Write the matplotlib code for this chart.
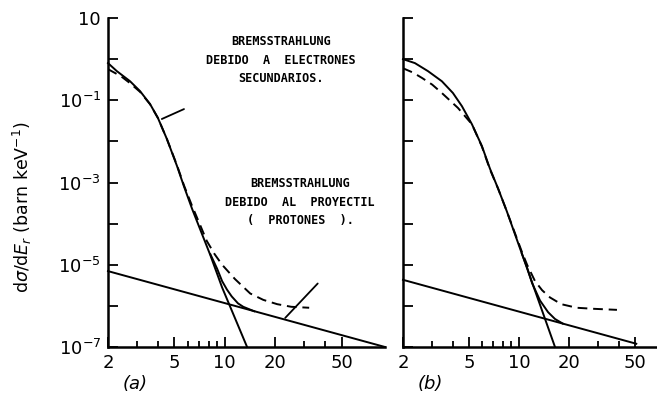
import matplotlib
matplotlib.use('Agg')
import matplotlib.pyplot as plt
from matplotlib.ticker import FixedLocator, NullFormatter

plt.rcParams['font.family'] = ['DejaVu Sans']

# panel (a)
a_elec_E = [2, 2.26, 2.71, 3.11, 3.57, 3.98, 4.5, 5.18, 5.7, 6.37, 7.1, 8.2, 9.64, 13.6]
a_elec_v = [0.8, 0.51, 0.29, 0.167, 0.081, 0.037, 0.0115, 2.5e-3, 8e-4, 2.3e-4, 7.5e-5,
            1.7e-5, 2.8e-6, 1e-7]
a_tot_E = [8.2, 9.0, 9.64, 10.3, 11, 12, 12.9, 15]
a_tot_v = [1.8e-5, 8e-6, 4e-6, 2.5e-6, 1.7e-6, 1.15e-6, 9.5e-7, 7.4e-7]
a_prot_E = [2, 91]
a_prot_v = [7e-6, 1e-7]
a_dash_E = [2, 2.4, 2.71, 3.11, 3.57, 3.98, 4.5, 5.18, 5.7, 6.37, 7.1, 7.8, 8.7, 9.64, 11.5,
            14.2, 17, 20.6, 25, 32]
a_dash_v = [0.57, 0.38, 0.26, 0.16, 0.08, 0.037, 0.0115, 2.6e-3, 8.5e-4, 2.7e-4, 9.5e-5,
            3.8e-5, 1.8e-5, 1e-5, 4.5e-6, 2e-6, 1.4e-6, 1.1e-6, 9.5e-7, 9e-7]

# panel (b)
b_elec_E = [2, 2.36, 2.83, 3.43, 4.0, 4.53, 5.21, 5.98, 6.68, 7.5, 8.45, 10.4, 16.5]
b_elec_v = [1.0, 0.8, 0.51, 0.29, 0.15, 0.072, 0.026, 7.7e-3, 2.2e-3, 7e-4, 2e-4, 1.9e-5, 1e-7]
b_tot_E = [10.4, 11.2, 12, 13.4, 15, 16.5, 18.4]
b_tot_v = [1.9e-5, 8.5e-6, 3.6e-6, 1.35e-6, 7e-7, 4.8e-7, 3.7e-7]
b_prot_E = [2, 51]
b_prot_v = [4.3e-6, 1.2e-7]
b_dash_E = [2, 2.3, 2.6, 3.0, 3.43, 4.29, 5.21, 5.98, 6.68, 7.5, 8.45, 10.4, 11.2, 12.5, 13.8,
            15.4, 18, 22.3, 28, 39]
b_dash_v = [0.6, 0.47, 0.35, 0.24, 0.15, 0.065, 0.026, 7.5e-3, 2.1e-3, 7e-4, 2e-4, 2.1e-5,
            1e-5, 4e-6, 2.4e-6, 1.6e-6, 1.1e-6, 9e-7, 8.5e-7, 8e-7]

x_major = [2, 5, 10, 20, 50]
x_minor = [3, 4, 6, 7, 8, 9, 30, 40]
y_major = [1e-7, 1e-6, 1e-5, 1e-4, 1e-3, 1e-2, 1e-1, 1, 10]
y_labels = ['$10^{-7}$', '', '$10^{-5}$', '', '$10^{-3}$', '', '$10^{-1}$', '', '10']

W, H = 657, 399
fig = plt.figure(figsize=(6.57, 3.99), dpi=100)
ax_a = fig.add_axes([108 / W, 1 - 347 / H, 277 / W, 329 / H])
ax_b = fig.add_axes([403 / W, 1 - 347 / H, 254 / W, 329 / H])

lw = 1.4


def style(ax, xmax, ylab):
    ax.set_xscale('log')
    ax.set_yscale('log')
    ax.set_xlim(2, xmax)
    ax.set_ylim(1e-7, 10)
    for s in ['top', 'right']:
        ax.spines[s].set_visible(False)
    for s in ['left', 'bottom']:
        ax.spines[s].set_linewidth(1.8)
    ax.xaxis.set_major_locator(FixedLocator(x_major))
    ax.xaxis.set_minor_locator(FixedLocator(x_minor))
    ax.set_xticklabels([str(v) for v in x_major])
    ax.xaxis.set_minor_formatter(NullFormatter())
    ax.yaxis.set_major_locator(FixedLocator(y_major))
    ax.yaxis.set_minor_locator(FixedLocator([]))
    if ylab:
        ax.set_yticklabels(y_labels)
    else:
        ax.set_yticklabels([])
    ax.tick_params(axis='both', which='major', direction='in', length=7, width=1.3,
                   labelsize=13, pad=5)
    ax.tick_params(axis='x', which='minor', direction='in', length=4, width=1.3)
    ax.patch.set_alpha(0)


for ax, eE, ev, tE, tv, pE, pv, dE, dv, xmax, ylab in [
    (ax_a, a_elec_E, a_elec_v, a_tot_E, a_tot_v, a_prot_E, a_prot_v, a_dash_E, a_dash_v, 91, True),
    (ax_b, b_elec_E, b_elec_v, b_tot_E, b_tot_v, b_prot_E, b_prot_v, b_dash_E, b_dash_v, 68, False),
]:
    ax.plot(eE, ev, color='black', lw=lw, clip_on=False)
    ax.plot(tE, tv, color='black', lw=lw)
    ax.plot(pE, pv, color='black', lw=lw, clip_on=False)
    ax.plot(dE, dv, color='black', lw=lw, dashes=(5, 3))
    style(ax, xmax, ylab)

# pointer lines for the labels
ax_a.annotate('', xy=(4.2, 0.035), xytext=(5.7, 0.061),
              arrowprops=dict(arrowstyle='-', lw=1.3, color='black', shrinkA=0, shrinkB=0))
ax_a.annotate('', xy=(23, 5.1e-7), xytext=(36, 3.5e-6),
              arrowprops=dict(arrowstyle='-', lw=1.3, color='black', shrinkA=0, shrinkB=0))

txt = dict(family='DejaVu Sans Mono', fontweight='bold', fontsize=8.5,
           ha='center', va='center', multialignment='center', linespacing=1.55)
fig.text(281 / W, 1 - 60 / H, 'BREMSSTRAHLUNG\nDEBIDO  A  ELECTRONES\nSECUNDARIOS.', **txt)
fig.text(300 / W, 1 - 202 / H, 'BREMSSTRAHLUNG\nDEBIDO  AL  PROYECTIL\n(  PROTONES  ).', **txt)

fig.text(22 / W, 1 - 207 / H, r'd$\sigma$/d$E_r$ (barn keV$^{-1}$)', rotation=90,
         ha='center', va='center', fontsize=12.5)
fig.text(135 / W, 1 - 384 / H, '(a)', ha='center', va='center', fontsize=13, style='italic')
fig.text(430 / W, 1 - 384 / H, '(b)', ha='center', va='center', fontsize=13, style='italic')

fig.savefig('out.png', dpi=100)
